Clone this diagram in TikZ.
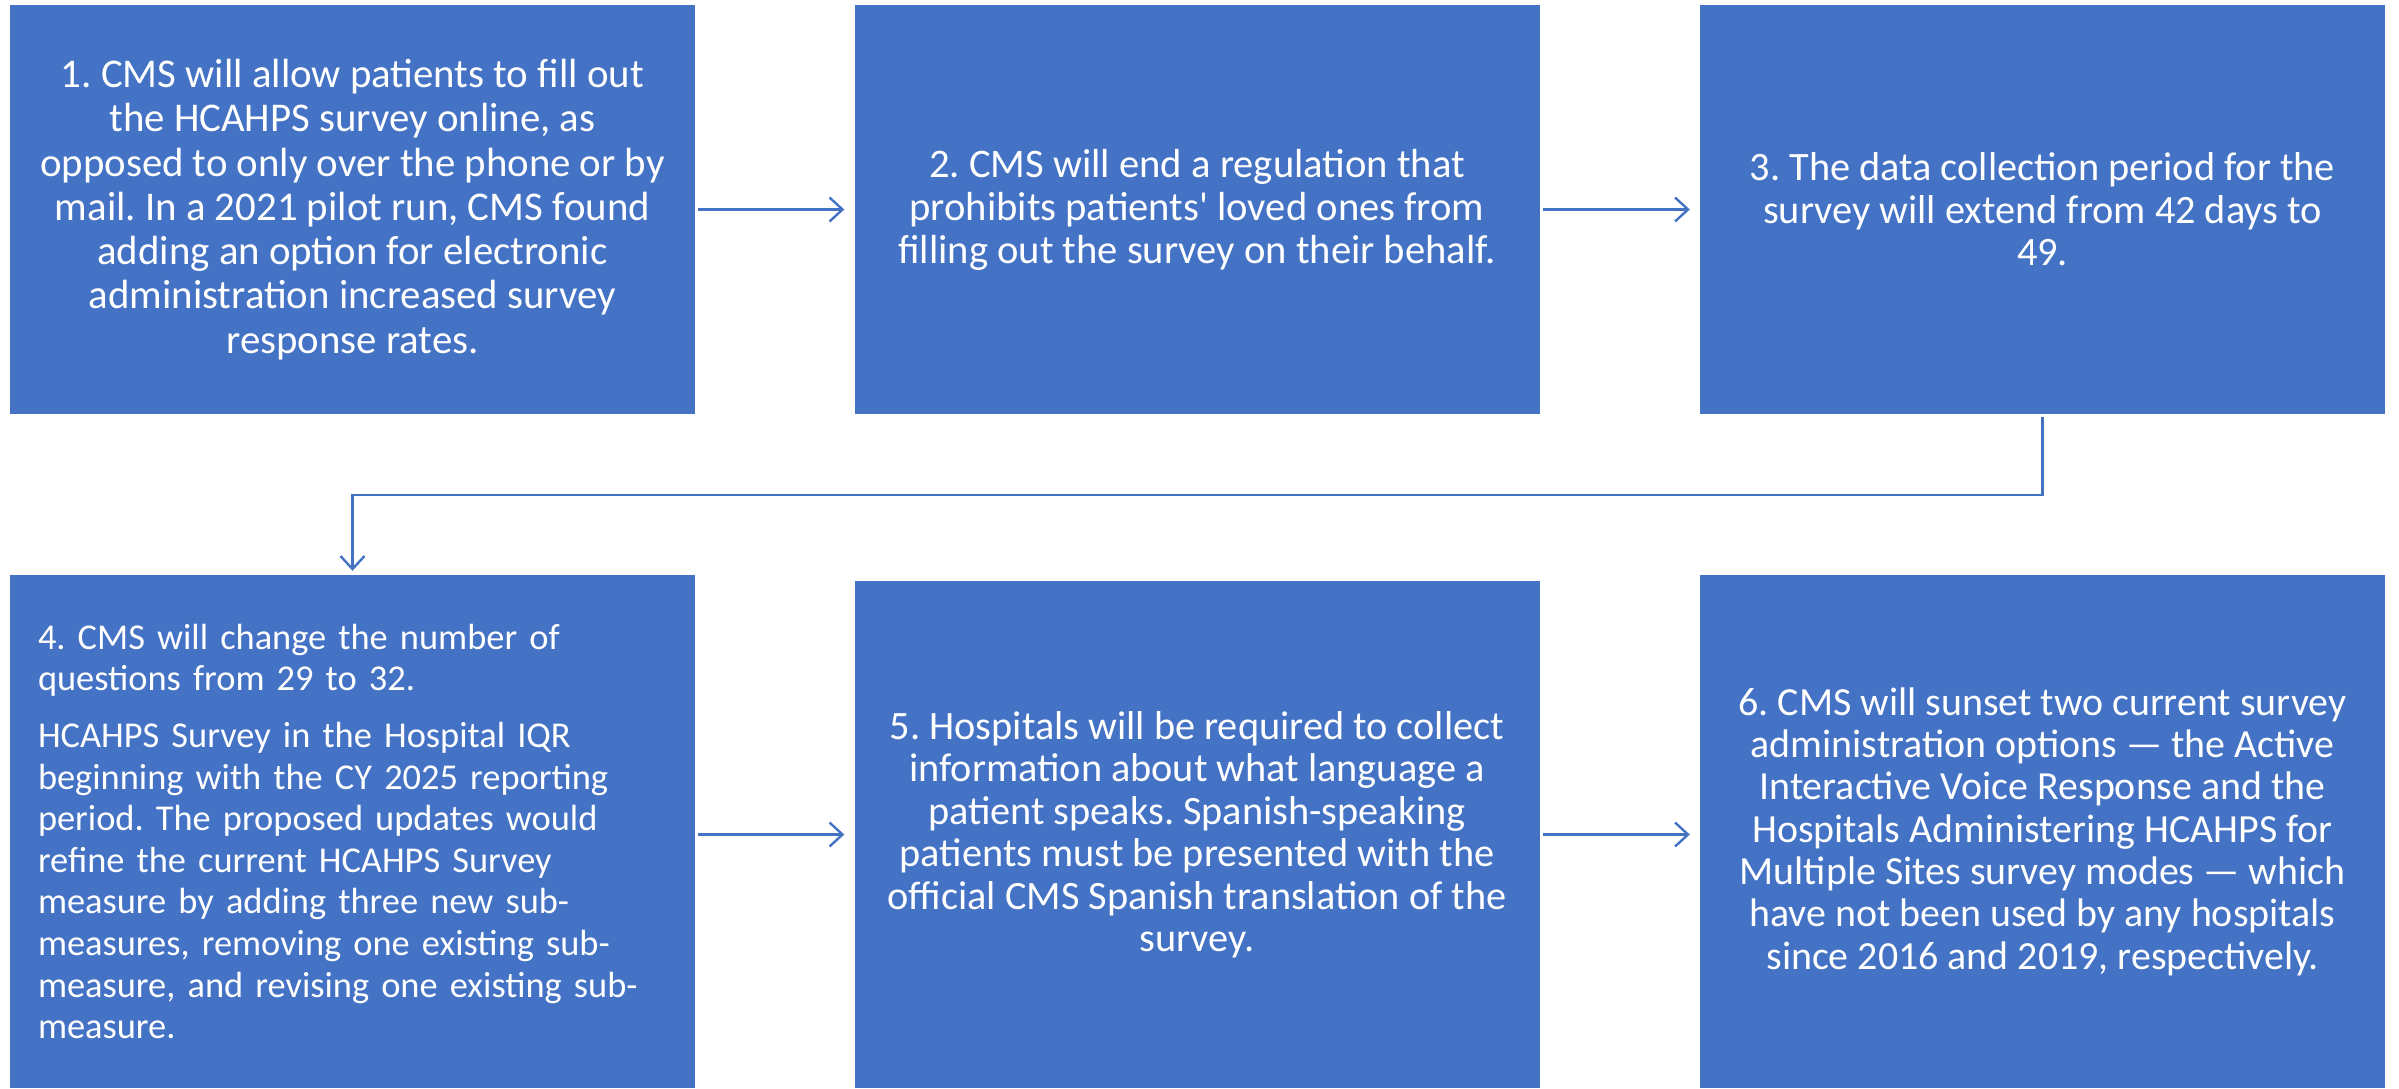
\documentclass[tikz,border=0pt]{standalone}
\usepackage{fontspec}
\setmainfont{Carlito}
\usetikzlibrary{arrows.meta}
\definecolor{cblue}{HTML}{4472C4}
\frenchspacing
\begin{document}
\begin{tikzpicture}[x=1pt,y=-1pt,
  stepbox/.style={fill=cblue, text=white, inner sep=0pt, minimum width=685pt,
    font=\fontsize{40.3pt}{42.5pt}\selectfont, align=center},
  conn/.style={draw=cblue, line width=2.4pt,
    -{Straight Barb[length=13pt,width=24pt,line width=2.4pt]},
    shorten <=3pt, shorten >=10pt}
]
\useasboundingbox (0,0) rectangle (2399,1088);

\node[stepbox, minimum height=409pt, font=\fontsize{40.8pt}{44.3pt}\selectfont] (b1) at (352.5,209.5)
  {1. CMS will allow patients to fill out\\
   the HCAHPS survey online, as\\
   opposed to only over the phone or by\\
   mail. In a 2021 pilot run, CMS found\\
   adding an option for electronic\\
   administration increased survey\\
   response rates.};

\node[stepbox, minimum height=409pt, font=\fontsize{40.6pt}{43pt}\selectfont] (b2) at (1197,209.5)
  {2. CMS will end a regulation that\\
   prohibits patients\textquotesingle{} loved ones from\\
   filling out the survey on their behalf.};

\node[stepbox, minimum height=409pt] (b3) at (2042.5,209.5)
  {3. The data collection period for the\\
   survey will extend from 42 days to\\
   49.};

\node[stepbox, minimum height=513pt, align=left, text width=629pt, inner xsep=28pt,
      font=\fontsize{36.4pt}{41.6pt}\selectfont] (b4) at (352.5,831.5)
  {4. CMS will change the number of\\
   questions from 29 to 32.\\[15pt]
   HCAHPS Survey in the Hospital IQR\\
   beginning with the CY 2025 reporting\\
   period. The proposed updates would\\
   refine the current HCAHPS Survey\\
   measure by adding three new sub-\\
   measures, removing one existing sub-\\
   measure, and revising one existing sub-\\
   measure.};

\node[stepbox, minimum height=507pt] (b5) at (1197,834.5)
  {5. Hospitals will be required to collect\\
   information about what language a\\
   patient speaks. Spanish-speaking\\
   patients must be presented with the\\
   official CMS Spanish translation of the\\
   survey.};

\node[stepbox, minimum height=513pt, font=\fontsize{39.9pt}{42.3pt}\selectfont] (b6) at (2042.5,831.5)
  {6. CMS will sunset two current survey\\
   administration options — the Active\\
   Interactive Voice Response and the\\
   Hospitals Administering HCAHPS for\\
   Multiple Sites survey modes — which\\
   have not been used by any hospitals\\
   since 2016 and 2019, respectively.};

\draw[conn] (b1.east) -- (b2.west);
\draw[conn] (b2.east) -- (b3.west);
\draw[conn, shorten >=4pt] (b3.south) -- ++(0,81) -| (b4.north);
\draw[conn] (b4.east |- b5.west) -- (b5.west);
\draw[conn] (b5.east) -- (b5.east -| b6.west);
\end{tikzpicture}
\end{document}
